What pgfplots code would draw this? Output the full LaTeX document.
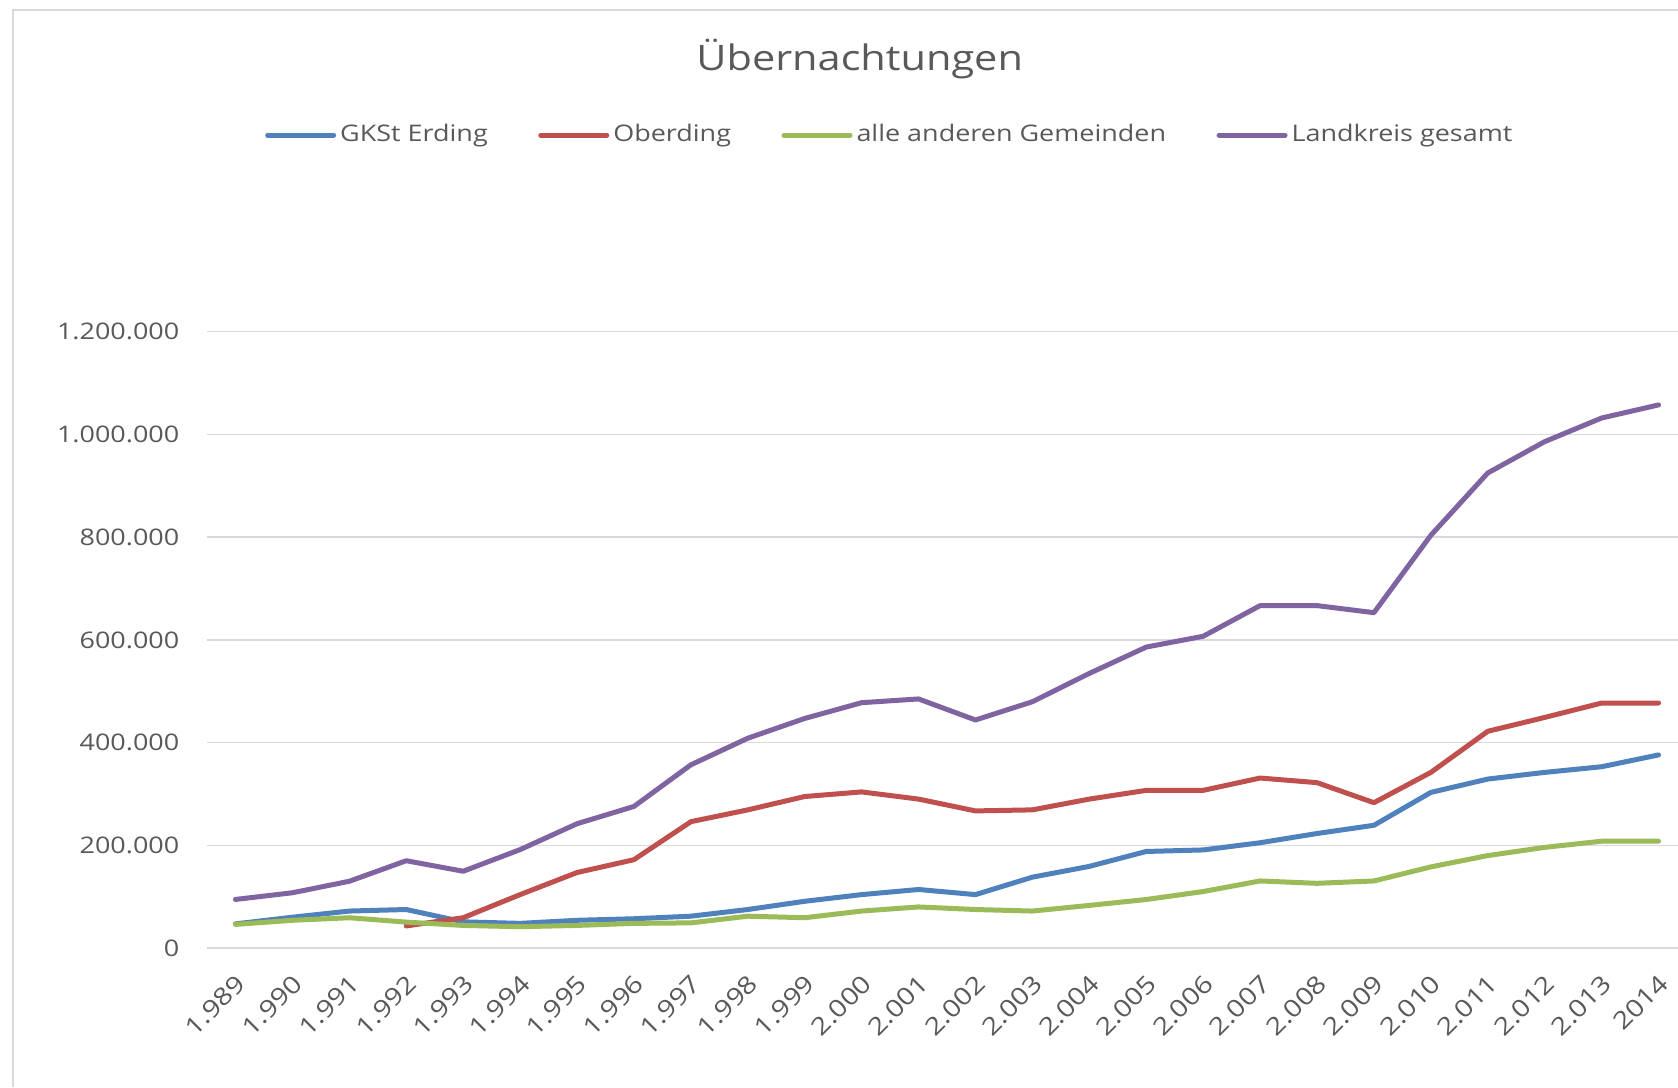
\documentclass[border=0pt]{standalone}
\usepackage{pgfplots}
\pgfplotsset{compat=1.18}
\usepackage{fontspec}
\setmainfont{Open Sans}[FakeStretch=1.18]
\definecolor{cBlue}{HTML}{4F81BD}
\definecolor{cRed}{HTML}{C0504D}
\definecolor{cGreen}{HTML}{9BBB59}
\definecolor{cPurple}{HTML}{8064A2}
\definecolor{tgray}{HTML}{595959}
\definecolor{ggray}{HTML}{D9D9D9}

\pgfplotstableread{
year val
1989 47000
1990 60000
1991 72000
1992 75000
1993 51000
1994 48000
1995 54000
1996 57000
1997 62000
1998 75000
1999 91000
2000 104000
2001 114000
2002 104000
2003 138000
2004 159000
2005 188000
2006 191000
2007 205000
2008 223000
2009 239000
2010 303000
2011 329000
2012 342000
2013 353000
2014 376000
}\erding

\pgfplotstableread{
year val
1992 43000
1993 59000
1994 104000
1995 147000
1996 172000
1997 246000
1998 269000
1999 295000
2000 304000
2001 290000
2002 267000
2003 269000
2004 290000
2005 307000
2006 307000
2007 331000
2008 322000
2009 283000
2010 342000
2011 422000
2012 449000
2013 477000
2014 477000
}\oberding

\pgfplotstableread{
year val
1989 46000
1990 54000
1991 59000
1992 50500
1993 44000
1994 41500
1995 44000
1996 48000
1997 49000
1998 62000
1999 59000
2000 72000
2001 80000
2002 75000
2003 72000
2004 83000
2005 94500
2006 110000
2007 130600
2008 126000
2009 130600
2010 158000
2011 180000
2012 196000
2013 208000
2014 208000
}\andere

\pgfplotstableread{
year val
1989 94600
1990 107600
1991 130000
1992 170000
1993 149500
1994 191600
1995 242000
1996 275700
1997 356700
1998 408500
1999 447000
2000 477700
2001 485000
2002 444000
2003 479600
2004 534700
2005 586000
2006 607000
2007 666700
2008 666700
2009 653000
2010 803700
2011 925000
2012 986000
2013 1032000
2014 1057500
}\landkreis

\begin{document}
\begin{tikzpicture}
\path[use as bounding box, fill=white] (0,0) rectangle (167.8mm,-108.7mm);
\draw[color=ggray, line width=0.25mm] (1.3mm,-108.7mm) -- (1.3mm,-1.0mm) -- (167.8mm,-1.0mm);
\begin{axis}[
  at={(20.7mm,-94.8mm)}, anchor=south west,
  scale only axis, width=148mm, height=61.63mm,
  xmin=1988.5, xmax=2014.5, ymin=0, ymax=1200000,
  clip=false,
  axis line style={draw=none},
  major tick length=0pt,
  xtick={1989,...,2014},
  xticklabels={1.989,1.990,1.991,1.992,1.993,1.994,1.995,1.996,1.997,1.998,1.999,2.000,2.001,2.002,2.003,2.004,2.005,2.006,2.007,2.008,2.009,2.010,2.011,2.012,2.013,2014},
  ytick={0,200000,400000,600000,800000,1000000,1200000},
  yticklabels={0,200.000,400.000,600.000,800.000,1.000.000,1.200.000},
  scaled y ticks=false,
  ymajorgrids, xmajorgrids=false,
  major grid style={color=ggray, line width=0.15mm},
  tick label style={font=\fontsize{6.5}{8}\selectfont, text=tgray},
  yticklabel style={anchor=east, inner sep=0pt, xshift=-2.7mm},
  xticklabel style={font=\fontsize{6.9}{8}\selectfont, xshift=0.6mm, yshift=-3.1mm, rotate=45, anchor=east, inner sep=0pt},
  title={Übernachtungen},
  title style={at={(0.441,1.408)}, anchor=center, font=\fontsize{10}{12}\selectfont, text=tgray},
  legend columns=4,
  legend style={at={(0.462,1.319)}, anchor=center, draw=none, fill=none,
    font=\fontsize{6.5}{8}\selectfont, text=tgray,
    /tikz/every even column/.append style={column sep=4.65mm},
    nodes={inner sep=0.4mm}},
  legend image code/.code={\draw[#1] (0mm,0mm) -- (6.6mm,0mm);},
  every axis plot/.append style={line width=0.5mm, line join=round, line cap=round, mark=none},
]
\addplot[cBlue] table[x=year,y=val] {\erding};
\addlegendentry{GKSt Erding}
\addplot[cRed] table[x=year,y=val] {\oberding};
\addlegendentry{Oberding}
\addplot[cGreen] table[x=year,y=val] {\andere};
\addlegendentry{alle anderen Gemeinden}
\addplot[cPurple] table[x=year,y=val] {\landkreis};
\addlegendentry{Landkreis gesamt}
\end{axis}
\end{tikzpicture}
\end{document}
